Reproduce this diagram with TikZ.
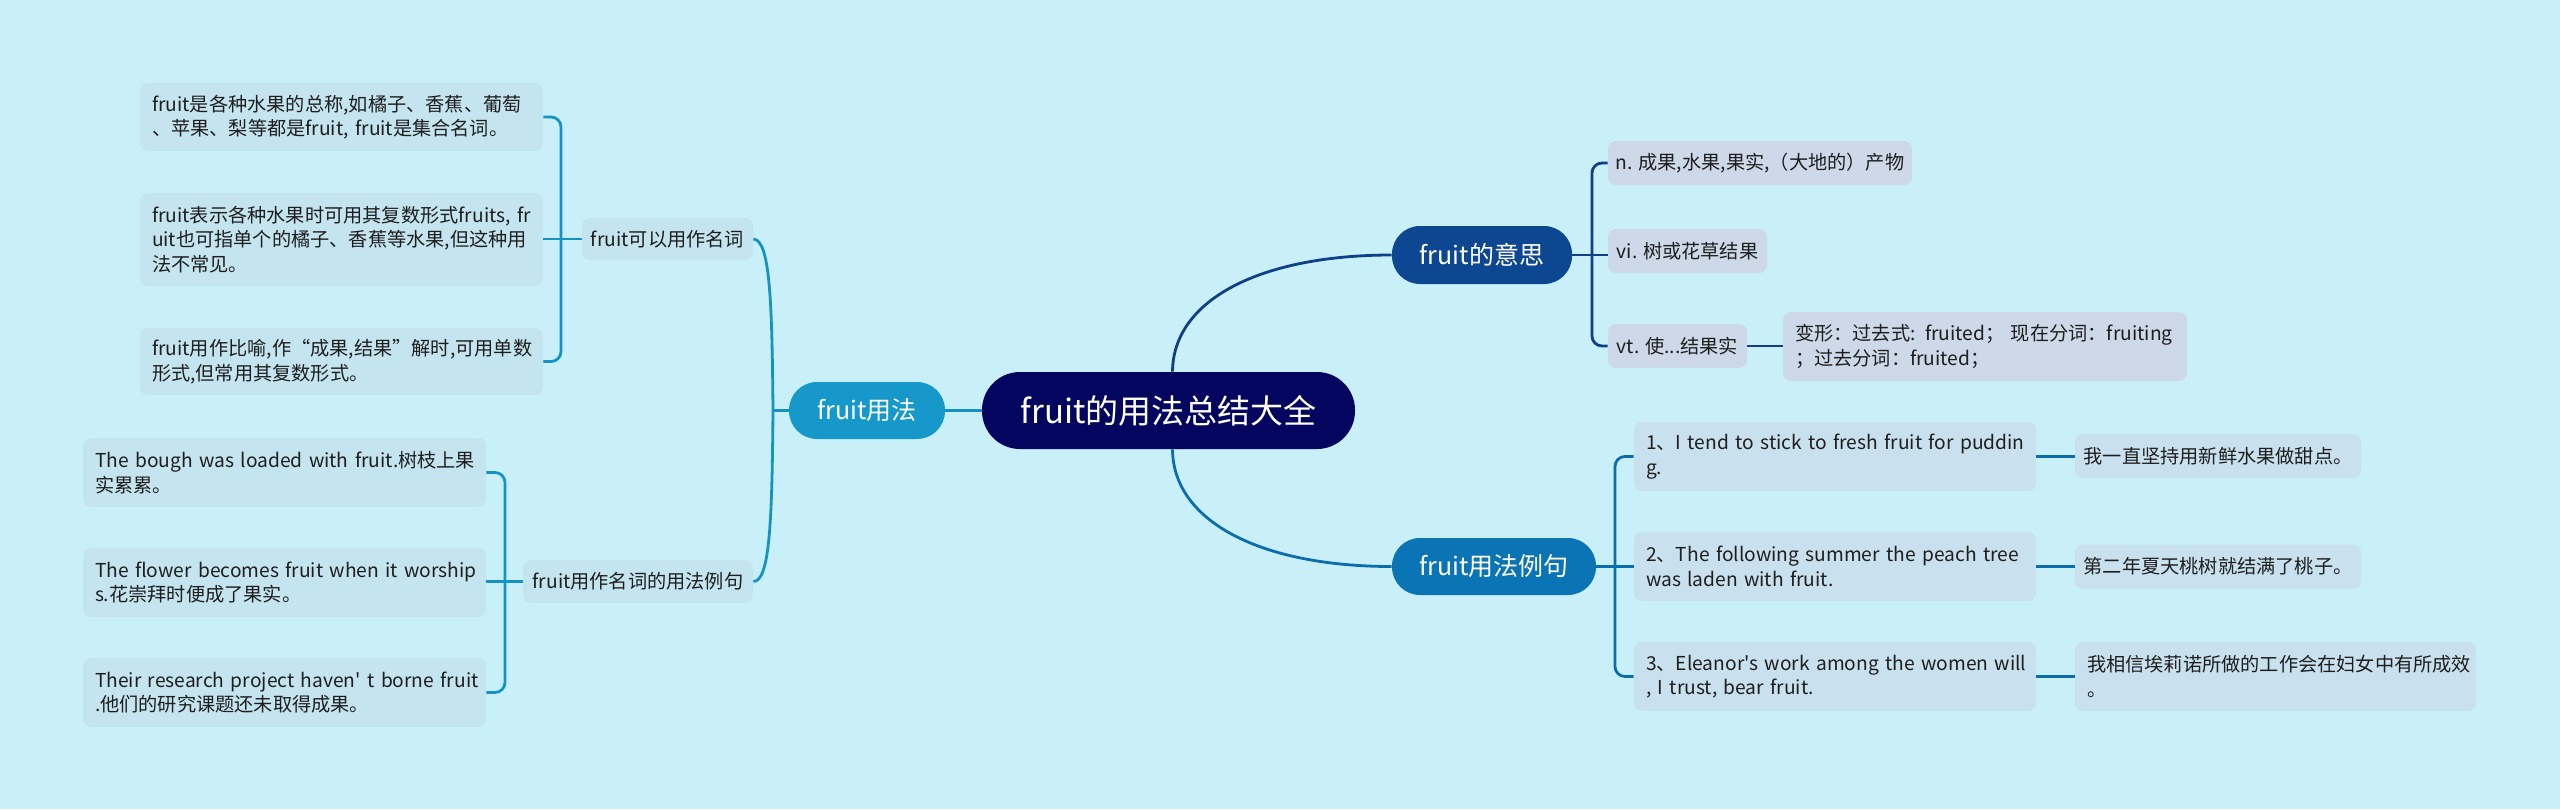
\documentclass[tikz,border=0pt]{standalone}
\usepackage{fontspec}
\setmainfont{Noto Sans CJK SC}[Ligatures=TeXOff]
\definecolor{bg}{HTML}{C9F0F8}
\definecolor{fillA}{HTML}{C4E5F0}
\definecolor{fillC}{HTML}{CDD8E8}
\definecolor{fillD}{HTML}{C9E1EE}
\definecolor{rootc}{HTML}{03055E}
\definecolor{meanc}{HTML}{0D4691}
\definecolor{meanl}{HTML}{0E3F88}
\definecolor{exc}{HTML}{0B74B5}
\definecolor{exl}{HTML}{0B6DAE}
\definecolor{usec}{HTML}{1699CA}
\definecolor{usel}{HTML}{1693C5}
\definecolor{txt}{HTML}{1E1E1E}
\begin{document}
\begin{tikzpicture}[x=0.5pt,y=-0.5pt,
  sz/.style 2 args={minimum width=#1,minimum height=#2},
  base/.style={inner sep=0pt,rounded corners=4pt,text=txt,font=\fontsize{9.6}{12.3}\selectfont},
  leafA/.style={base,fill=fillA},
  leafC/.style={base,fill=fillC},
  leafD/.style={base,fill=fillD},
  branch/.style={inner sep=0pt,rounded corners=14pt,text=white,font=\fontsize{12.5}{14}\selectfont},
  lnUse/.style={draw=usel,line width=1.4pt},
  lnMean/.style={draw=meanl,line width=1.4pt},
  lnEx/.style={draw=exl,line width=1.4pt}]
\fill[bg] (0,0) rectangle (2560,809);
\useasboundingbox (0,0) rectangle (2560,809);

% root and branches
\node[inner sep=0pt,rounded corners=19pt,fill=rootc,text=white,font=\fontsize{16.5}{18}\selectfont,sz={186.5pt}{38.5pt}] (root) at (1168.5,410.5) {fruit的用法总结大全};
\node[branch,fill=meanc,sz={90pt}{29pt}] (Nm) at (1482,255) {fruit的意思};
\node[branch,fill=exc,sz={102pt}{28.5pt}] (Ne) at (1494,566.5) {fruit用法例句};
\node[branch,fill=usec,sz={78pt}{28.5pt}] (Nu) at (867,410.5) {fruit用法};

% left secondary
\node[leafA,sz={85.5pt}{21pt}] (Na) at (667.5,239) {fruit可以用作名词};
\node[leafA,sz={115pt}{21.5pt}] (Nb) at (638,581.5) {fruit用作名词的用法例句};

% left leaves A
\node[leafA,sz={201.5pt}{34pt},text width=189.5pt,align=left] (A1) at (341.5,117)
  {\mbox{fruit是各种水果的总称,如橘子、香蕉、葡萄}\\\mbox{、苹果、梨等都是fruit, fruit是集合名词。}};
\node[leafA,sz={201.5pt}{46.5pt},text width=189.5pt,align=left] (A2) at (341.5,239.5)
  {\mbox{fruit表示各种水果时可用其复数形式fruits, fr}\\\mbox{uit也可指单个的橘子、香蕉等水果,但这种用}\\\mbox{法不常见。}};
\node[leafA,sz={201.5pt}{33.5pt},text width=189.5pt,align=left] (A3) at (341.5,361.5)
  {\mbox{fruit用作比喻,作“成果,结果”解时,可用单数}\\\mbox{形式,但常用其复数形式。}};

% left leaves B
\node[leafA,sz={201.5pt}{34.5pt},text width=189.5pt,align=left] (B1) at (284.5,472.5)
  {\mbox{The bough was loaded with fruit.树枝上果}\\\mbox{实累累。}};
\node[leafA,sz={201.5pt}{34.5pt},text width=189.5pt,align=left] (B2) at (284.5,582.5)
  {\mbox{The flower becomes fruit when it worship}\\\mbox{s.花崇拜时便成了果实。}};
\node[leafA,sz={201.5pt}{34.5pt},text width=189.5pt,align=left] (B3) at (284.5,692.5)
  {\mbox{Their research project haven' t borne fruit}\\\mbox{.他们的研究课题还未取得成果。}};

% right top leaves C
\node[leafC,sz={152pt}{22pt}] (C1) at (1760,163) {n. 成果,水果,果实,（大地的）产物};
\node[leafC,sz={79.5pt}{22pt}] (C2) at (1687.5,251) {vi. 树或花草结果};
\node[leafC,sz={69.5pt}{22pt}] (C3) at (1677.5,346) {vt. 使...结果实};
\node[leafC,sz={202pt}{34.5pt},text width=190pt,align=left] (C4) at (1985,346.5)
  {\mbox{变形：过去式: fruited； 现在分词：fruiting}\\\mbox{；过去分词：fruited；}};

% right bottom leaves D and E
\node[leafD,sz={201pt}{34.5pt},text width=189pt,align=left] (D1) at (1835,456.5)
  {\mbox{1、I tend to stick to fresh fruit for puddin}\\\mbox{g.}};
\node[leafD,sz={201pt}{34.5pt},text width=189pt,align=left] (D2) at (1835,566.5)
  {\mbox{2、The following summer the peach tree}\\\mbox{was laden with fruit.}};
\node[leafD,sz={201pt}{34.5pt},text width=189pt,align=left] (D3) at (1835,676.5)
  {\mbox{3、Eleanor's work among the women will}\\\mbox{, I trust, bear fruit.}};
\node[leafD,sz={143pt}{22pt}] (E1) at (2218,456) {我一直坚持用新鲜水果做甜点。};
\node[leafD,sz={143pt}{22pt}] (E2) at (2218,566.5) {第二年夏天桃树就结满了桃子。};
\node[leafD,sz={200.5pt}{34.5pt},text width=188.5pt,align=left] (E3) at (2275.5,676.5)
  {\mbox{我相信埃莉诺所做的工作会在妇女中有所成效}\\\mbox{。}};

% connectors: root
\draw[lnMean] ([xshift=2pt]root.north) .. controls (1173,300) and (1260,255) .. (Nm.west);
\draw[lnEx] ([xshift=2pt]root.south) .. controls (1173,521) and (1260,566.5) .. (Ne.west);
\draw[lnUse] (root.west) -- (Nu.east);

% left branch
\coordinate (fu) at (773,410.5);
\draw[lnUse] (Nu.west) -- (fu);
\draw[lnUse] (fu) .. controls (772,300) and (770,240) .. (Na.east);
\draw[lnUse] (fu) .. controls (772,520) and (770,581.5) .. (Nb.east);

\draw[lnUse,rounded corners=5pt] (A1.east) -| (561,300) |- (A3.east);
\draw[lnUse] (Na.west) -- (Na.west -| A2.east);
\draw[lnUse,rounded corners=5pt] (B1.east) -| (505,580) |- (B3.east);
\draw[lnUse] (Nb.west) -- (Nb.west -| B2.east);

% right top
\draw[lnMean,rounded corners=5pt] (C1.west) -| (1592,250) |- (C3.west);
\draw[lnMean] (Nm.east) -- (Nm.east -| C2.west);
\draw[lnMean] (C3.east) -- (C3.east -| C4.west);

% right bottom
\draw[lnEx,rounded corners=5pt] (D1.west) -| (1615,566) |- (D3.west);
\draw[lnEx] (Ne.east) -- (Ne.east -| D2.west);
\draw[lnEx] (D1.east) -- (D1.east -| E1.west);
\draw[lnEx] (D2.east) -- (D2.east -| E2.west);
\draw[lnEx] (D3.east) -- (D3.east -| E3.west);
\end{tikzpicture}
\end{document}
